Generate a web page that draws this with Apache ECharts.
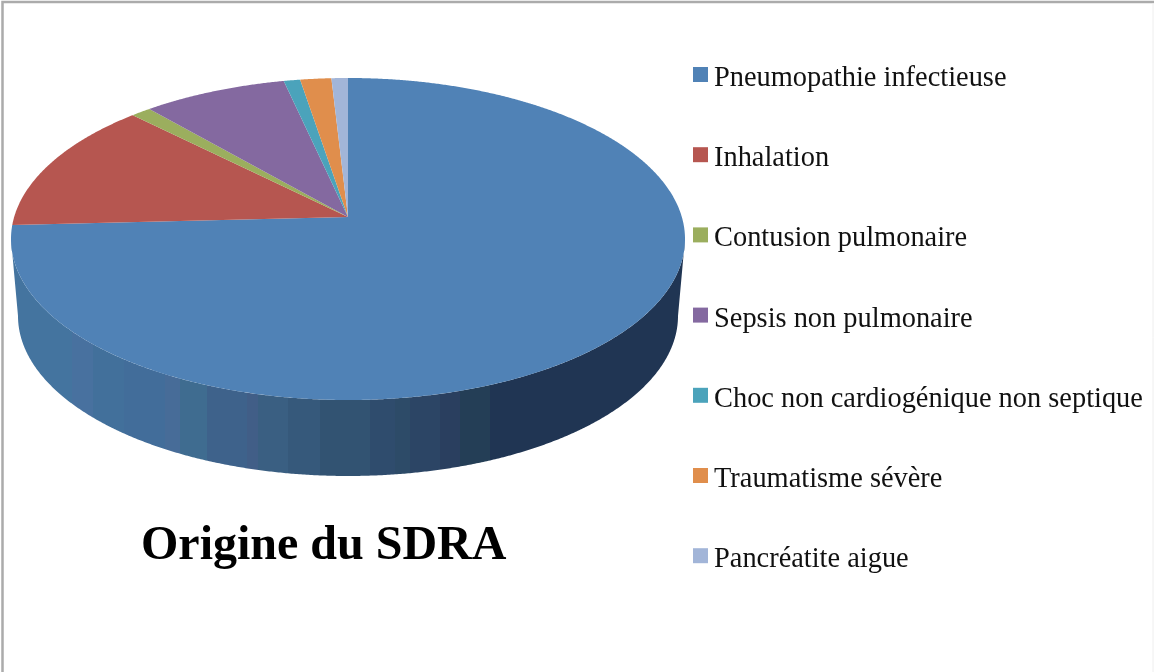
<!DOCTYPE html>
<html>
<head>
<meta charset="utf-8">
<style>html,body{margin:0;padding:0;background:#fff}#c{width:1154px;height:672px}</style>
<script src="https://cdn.jsdelivr.net/npm/echarts@6/dist/echarts.min.js"></script>
</head>
<body>
<div id="c"></div>
<script>
const titleText = 'Origine du SDRA';
const categories = ['Pneumopathie infectieuse','Inhalation','Contusion pulmonaire','Sepsis non pulmonaire','Choc non cardiogénique non septique','Traumatisme sévère','Pancréatite aigue'];
const values = [74.2,13.3,1.1,7.9,0.9,1.7,0.9];
const colors = ['#5082b6','#b65650','#9bae5e','#8469a0','#4ba3bb','#e08e4c','#a2b5d8'];
const wallBands = [[18,'#44749f'],[72,'#48719f'],[93,'#42709b'],[124,'#426d9a'],[165,'#476c98'],[180,'#3f6c90'],[207,'#3e628b'],[247,'#415e87'],[258,'#3a5f82'],[288,'#36597b'],[320,'#325372'],[370,'#2f4c6d'],[395,'#2d4b68'],[410,'#2c4565'],[440,'#2a3f5f'],[460,'#243e56'],[490,'#203553'],[678,'#203553']];

// projected pie geometry
const top_ = {cx:348, cy:239, rx:337, ry:161};
const bot_ = {cx:348, cy:316, rx:330, ry:160};
const apexY = 217;
const k = (top_.cy-apexY)/top_.ry;
const total = values.reduce((a,b)=>a+b,0);
const frontStart = Math.acos(-k), frontEnd = 2*Math.PI-frontStart;
function proj(e,t){
  const u=Math.sin(t), v=Math.cos(t), w=1+k*v;
  return [e.cx+e.rx*Math.sqrt(1-k*k)*u/w, e.cy-e.ry*(v+k)/w];
}
function arc(e,a,b){
  const n=Math.max(2,Math.ceil(Math.abs(b-a)/0.005)), p=[];
  for(let i=0;i<=n;i++) p.push(proj(e,a+(b-a)*i/n));
  return p;
}
function wallFill(){
  const x0=wallBands[0][0], x1=wallBands[wallBands.length-1][0], stops=[];
  wallBands.forEach((b,i)=>{
    const o=(b[0]-x0)/(x1-x0);
    if(i>0) stops.push({offset:o,color:wallBands[i-1][1]});
    stops.push({offset:o,color:b[1]});
  });
  return {type:'linear',x:x0,y:0,x2:x1,y2:0,global:true,colorStops:stops};
}
let cum=0;
const series = categories.map((name,i)=>{
  const a=cum/total*2*Math.PI; cum+=values[i];
  const b=cum/total*2*Math.PI;
  return {
    type:'custom', name, coordinateSystem:'none', silent:true,
    itemStyle:{color:colors[i]},
    data:[values[i]],
    renderItem(){
      const children=[];
      const wa=Math.max(a,frontStart), wb=Math.min(b,frontEnd);
      if(wb>wa){
        children.push({type:'polygon',shape:{points:arc(top_,wa,wb).concat(arc(bot_,wb,wa))},style:{fill:wallFill()}});
      }
      children.push({type:'polygon',shape:{points:[[top_.cx,apexY]].concat(arc(top_,a,b))},style:{fill:colors[i]}});
      return {type:'group',children};
    }
  };
});
const chart = echarts.init(document.getElementById('c'),null,{renderer:'canvas'});
chart.setOption({
  animation:false,
  backgroundColor:'#fff',
  title:{text:titleText,left:141,top:523,padding:0,textStyle:{fontFamily:'Liberation Serif',fontWeight:'bold',fontSize:48,color:'#000'}},
  legend:{
    orient:'vertical',left:693,top:56.5,padding:0,itemWidth:15,itemHeight:15,itemGap:44.2,icon:'rect',selectedMode:false,
    formatter:n=>'{a|'+n+'}',
    textStyle:{rich:{a:{fontFamily:'Liberation Serif',fontSize:28.4,color:'#111',lineHeight:30,padding:[8,0,0,1]}}},
    data:categories
  },
  graphic:[
    {type:'rect',silent:true,z:-1,shape:{x:2.5,y:2,width:1200,height:720},style:{fill:'transparent',stroke:'#ababab',lineWidth:2.5}},
    {type:'line',silent:true,z:-1,shape:{x1:1153,y1:3,x2:1153,y2:672},style:{stroke:'#eeeeee',lineWidth:1}}
  ],
  series
});
</script>
</body>
</html>
